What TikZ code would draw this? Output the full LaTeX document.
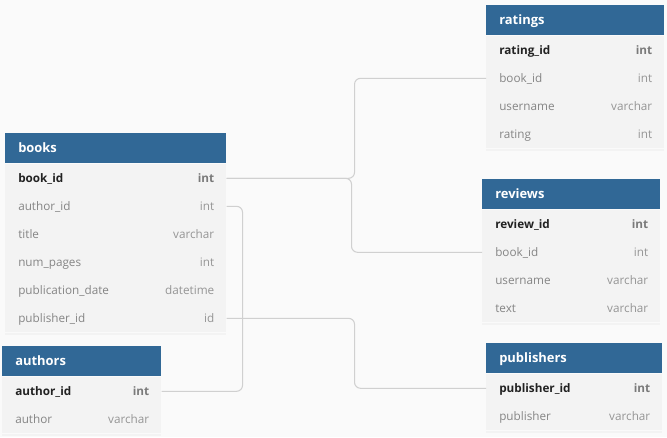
\documentclass[tikz,border=0pt]{standalone}
\usepackage{fontspec}
\setmainfont{Open Sans}
\usetikzlibrary{calc}
\definecolor{bgc}{HTML}{FAFAFA}
\definecolor{bodyc}{HTML}{F3F3F3}
\definecolor{hdrc}{HTML}{316896}
\definecolor{keydark}{HTML}{222222}
\definecolor{keytype}{HTML}{7A7A7A}
\definecolor{fldc}{HTML}{858585}
\definecolor{typec}{HTML}{959595}
\definecolor{linec}{HTML}{D0D0D0}
\newcommand\keyn[1]{\textcolor{keydark}{\bfseries #1}}
\newcommand\keyt[1]{\textcolor{keytype}{\bfseries #1}}
\tikzset{
  hdr/.style={draw=none, fill=hdrc, minimum height=30*0.75pt, inner sep=0pt},
  hdrtxt/.style={text=white, font=\fontsize{9.7}{12}\selectfont\bfseries, inner sep=0pt, anchor=west, text height=1.5ex, text depth=.3ex},
  rowbox/.style={draw=none, fill=bodyc, minimum height=28*0.75pt, inner sep=0pt},
  fldname/.style={text=fldc, font=\fontsize{8.8}{10}\selectfont, inner sep=0pt, anchor=west, text height=1.5ex, text depth=.3ex},
  fldtype/.style={text=typec, font=\fontsize{8.8}{10}\selectfont, inner sep=0pt, anchor=east, text height=1.5ex, text depth=.3ex},
  conn/.style={draw=linec, line width=0.8pt, rounded corners=4.5pt},
}
\newcommand\ertable[6]{%
  \node[hdr, minimum width=#5*0.75pt, anchor=north west] (#1) at (#3,#4) {};
  \node[hdrtxt] (#1-title) at ([xshift=13*0.75pt]#1.west) {#2};
  \foreach \fn/\ft [count=\i] in {#6} {
    \node[rowbox, minimum width=#5*0.75pt, anchor=north west] (#1-\i) at ($(#1.south west)+(0,{0.5+28*(\i-1)})$) {};
    \fill[bodyc] (#1-\i.south west) rectangle ++(#5,2);
    \node[fldname] (#1-\i-n) at ([xshift=13*0.75pt]#1-\i.west) {\fn};
    \node[fldtype] (#1-\i-t) at ([xshift=-12*0.75pt]#1-\i.east) {\ft};
  }
}
\begin{document}
\begin{tikzpicture}[x=0.75pt,y=-0.75pt]
\useasboundingbox[fill=bgc] (0,0) rectangle (667,437);
\ertable{books}{books}{5}{133}{221}{\keyn{book\_id}/\keyt{int}, author\_id/int, title/varchar, num\_pages/int, publication\_date/datetime, publisher\_id/id}
\ertable{authors}{authors}{2}{346}{159}{\keyn{author\_id}/\keyt{int}, author/varchar}
\ertable{ratings}{ratings}{486}{5}{178}{\keyn{rating\_id}/\keyt{int}, book\_id/int, username/varchar, rating/int}
\ertable{reviews}{reviews}{482}{179}{178}{\keyn{review\_id}/\keyt{int}, book\_id/int, username/varchar, text/varchar}
\ertable{publishers}{publishers}{486}{343}{176}{\keyn{publisher\_id}/\keyt{int}, publisher/varchar}
\draw[conn] (books-1.east) -- ++(128,0) |- (ratings-2.west);
\draw[conn] (books-1.east) -- ++(125,0) |- (reviews-2.west);
\draw[conn] (books-2.east) -- ++(16,0) |- (authors-1.east);
\draw[conn] (books-6.east) -- ++(128,0) |- (publishers-1.west);
\end{tikzpicture}
\end{document}
